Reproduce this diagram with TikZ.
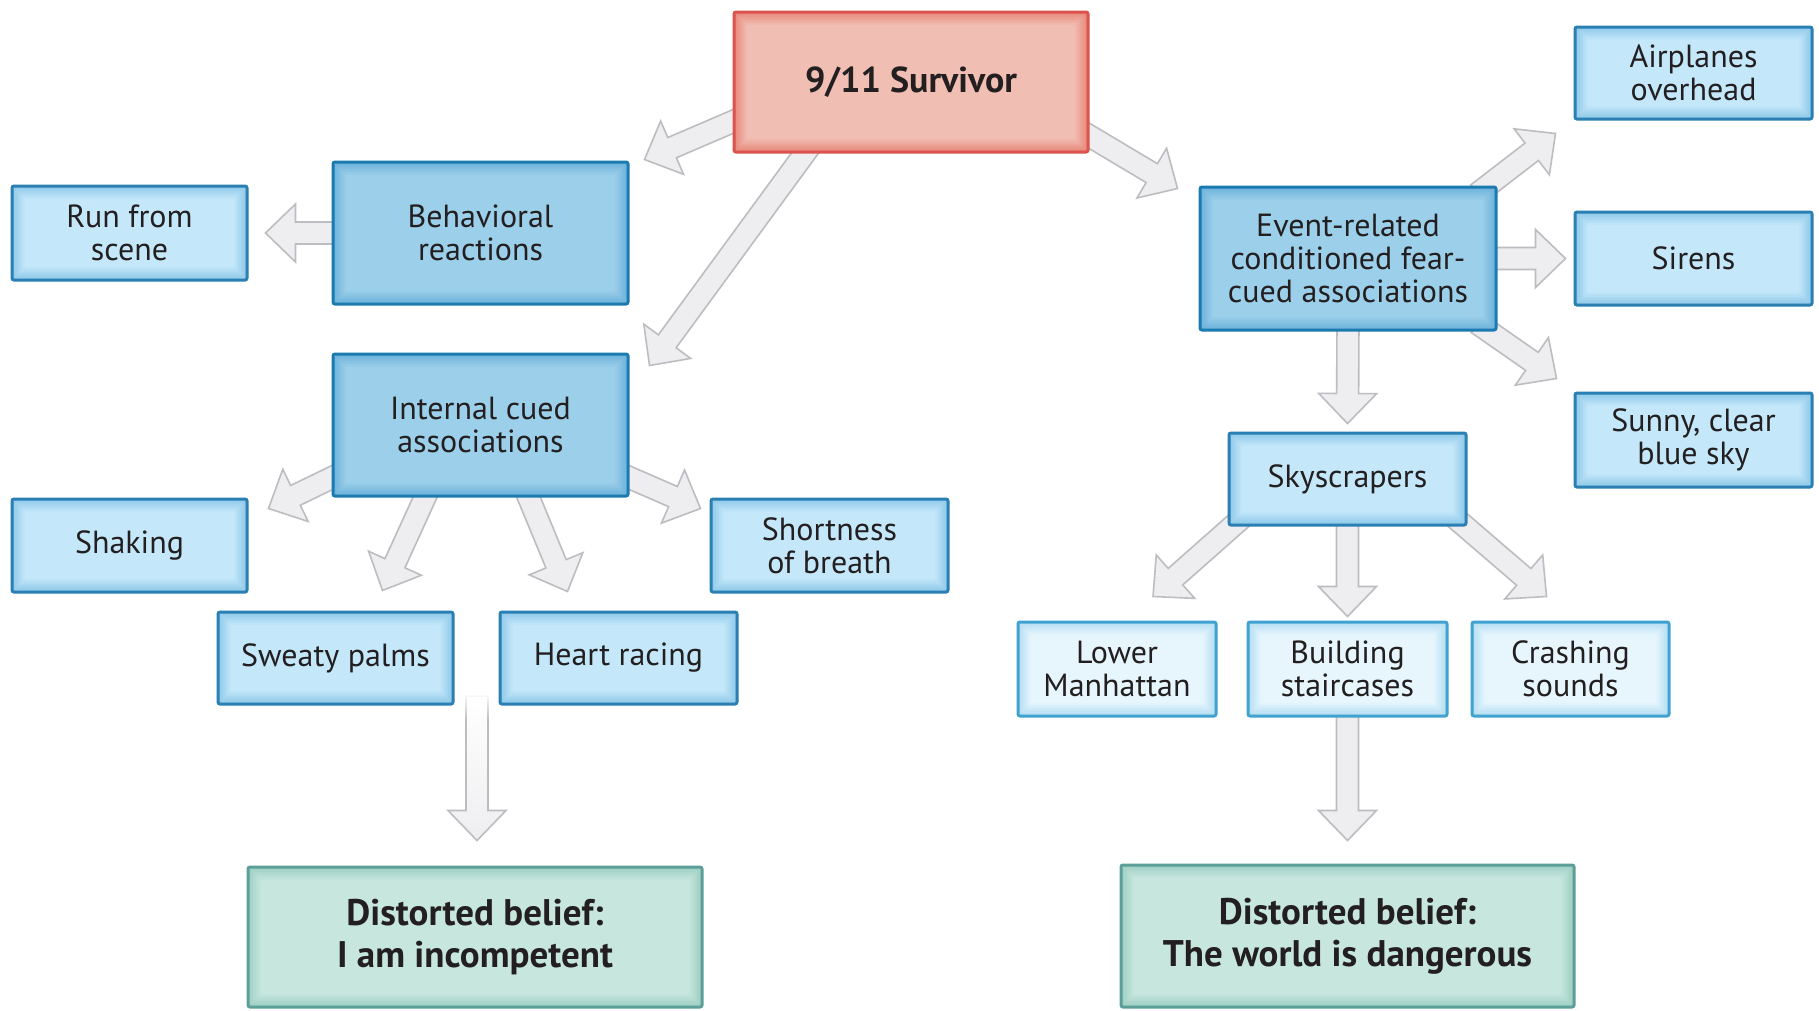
\documentclass[tikz,border=0pt]{standalone}
\usepackage{fontspec}
\setmainfont{PT Sans}
\usetikzlibrary{calc,backgrounds,fadings}
\pgfdeclarelayer{bottom}
\pgfsetlayers{bottom,background,main}
\definecolor{txt}{HTML}{231F20}
\definecolor{svborder}{HTML}{DC524C}
\definecolor{svedge}{HTML}{E8887A}
\definecolor{svcenter}{HTML}{F1BEB3}
\definecolor{dkborder}{HTML}{1B7BB1}
\definecolor{dkedge}{HTML}{6CB2DB}
\definecolor{dkcenter}{HTML}{9CCFEA}
\definecolor{ltborder}{HTML}{2A7FB3}
\definecolor{ltedge}{HTML}{8FC9EA}
\definecolor{ltcenter}{HTML}{C4E8FA}
\definecolor{xlborder}{HTML}{3FA2CF}
\definecolor{xledge}{HTML}{B3DDF2}
\definecolor{xlcenter}{HTML}{E7F6FD}
\definecolor{gnborder}{HTML}{5C9F99}
\definecolor{gnedge}{HTML}{9ECFC3}
\definecolor{gncenter}{HTML}{C7E6DE}
\definecolor{afill}{HTML}{EEEEF0}
\definecolor{aline}{HTML}{BDBDC1}
\tikzset{
  glow/.style n args={2}{path picture={
    \foreach \i in {0,...,8}{
      \pgfmathtruncatemacro\pc{100-\i*12.5}
      \fill[#2!\pc!#1] ([shift={(\i*1.6pt,-\i*1.6pt)}]path picture bounding box.north west)
        rectangle ([shift={(-\i*1.6pt,\i*1.6pt)}]path picture bounding box.south east);
    }}},
  box/.style={rounded corners=2pt, line width=3pt, align=center, inner sep=2pt,
    text=txt, font=\fontsize{32}{33}\selectfont},
  svbox/.style={box, draw=svborder, fill=svcenter, glow={svcenter}{svedge},
    font=\fontsize{36}{40}\selectfont\bfseries},
  dkbox/.style={box, draw=dkborder, fill=dkcenter, glow={dkcenter}{dkedge}},
  ltbox/.style={box, draw=ltborder, fill=ltcenter, glow={ltcenter}{ltedge}},
  xlbox/.style={box, draw=xlborder, fill=xlcenter, glow={xlcenter}{xledge}},
  gnbox/.style={box, draw=gnborder, fill=gncenter, glow={gncenter}{gnedge},
    font=\fontsize{37}{42}\selectfont\bfseries},
  blockarrow/.style={fill=afill, draw=aline, line width=1.6pt, line join=miter},
}
\newcommand\barrow[3][]{%
  \coordinate (ba) at #2;
  \coordinate (bb) at #3;
  \coordinate (bc) at ($(bb)!30pt!(ba)$);
  \path[blockarrow,#1] ($(ba)!11pt!90:(bb)$) -- ($(bc)!11pt!90:(bb)$) -- ($(bc)!29pt!90:(bb)$)
    -- (bb) -- ($(bc)!29pt!-90:(bb)$) -- ($(bc)!11pt!-90:(bb)$) -- ($(ba)!11pt!-90:(bb)$) -- cycle;
}
\begin{document}
\begin{tikzpicture}[x=1pt,y=-1pt]
\begin{pgfonlayer}{bottom}
\fill[white] (0,0) rectangle (1819,1010);
\end{pgfonlayer}
\useasboundingbox (0,0) rectangle (1819,1010);

\node[svbox, minimum width=354pt, minimum height=140pt] (surv) at (911,82) {9/11 Survivor};

\node[dkbox, minimum width=295pt, minimum height=142pt] (beh) at (480.5,233) {Behavioral\\reactions};
\node[ltbox, minimum width=235pt, minimum height=94pt] (run) at (129.5,233) {Run from\\scene};
\node[dkbox, minimum width=295pt, minimum height=142pt] (int) at (480.5,425) {Internal cued\\associations};
\node[ltbox, minimum width=235pt, minimum height=93pt] (shak) at (129.5,545.5) {Shaking};
\node[ltbox, minimum width=235pt, minimum height=92pt] (sweat) at (335.5,658) {Sweaty palms};
\node[ltbox, minimum width=237pt, minimum height=92pt] (heart) at (618.5,658) {Heart racing};
\node[ltbox, minimum width=237pt, minimum height=93pt] (short) at (829.5,545.5) {Shortness\\of breath};
\node[gnbox, minimum width=454pt, minimum height=140pt] (bel1) at (475,937) {Distorted belief:\\I am incompetent};

\node[dkbox, minimum width=296pt, minimum height=143pt] (evt) at (1348,258.5) {Event-related\\conditioned fear-\\cued associations};
\node[ltbox, minimum width=237pt, minimum height=92pt] (air) at (1693.5,73) {Airplanes\\overhead};
\node[ltbox, minimum width=237pt, minimum height=93pt] (sir) at (1693.5,258.5) {Sirens};
\node[ltbox, minimum width=237pt, minimum height=94pt] (sun) at (1693.5,440) {Sunny, clear\\blue sky};
\node[ltbox, minimum width=237pt, minimum height=92pt] (sky) at (1347.5,479) {Skyscrapers};
\node[xlbox, minimum width=198pt, minimum height=94pt] (low) at (1117,669) {Lower\\Manhattan};
\node[xlbox, minimum width=199pt, minimum height=94pt] (bld) at (1347.5,669) {Building\\staircases};
\node[xlbox, minimum width=197pt, minimum height=94pt] (crash) at (1570.5,669) {Crashing\\sounds};
\node[gnbox, minimum width=453pt, minimum height=142pt] (bel2) at (1347.5,936) {Distorted belief:\\The world is dangerous};

\coordinate (symp) at (477,696);

\begin{pgfonlayer}{background}
\barrow{($(surv.west)+(11,35)$)}{($(beh.north east)+(15,-1)$)}
\barrow{($(surv.south)+(-99,-10)$)}{($(int.north east)+(20,13)$)}
\barrow{($(surv.east)+(-10,48)$)}{($(evt.north west)+(-21,3)$)}
\barrow{($(beh.west)+(10,0)$)}{($(run.east)+(17,0)$)}
\barrow{($(int.west)+(12,47)$)}{($(shak.north east)+(20,11)$)}
\barrow{($(int.south)+(-51,-10)$)}{($(sweat.north)+(47,-20)$)}
\barrow{($(int.south)+(44,-10)$)}{($(heart.north)+(-51,-19)$)}
\barrow{($(int.east)+(-13,47)$)}{($(short.north west)+(-9,11)$)}
\barrow[top color=white, bottom color=afill]{(symp)}{($(bel1.north)+(2,-25)$)}
\fill[white, path fading=south] ($(symp)+(-16,-3)$) rectangle ($(symp)+(16,24)$);
\barrow{($(evt.north east)+(-20,8)$)}{($(air.south west)+(-18,13)$)}
\barrow{($(evt.east)+(-10,0)$)}{($(sir.west)+(-8,0)$)}
\barrow{($(evt.south east)+(-20,-8)$)}{($(sun.north west)+(-17,-13)$)}
\barrow{($(evt.south)+(0,-10)$)}{($(sky.north)+(0,-8)$)}
\barrow{($(sky.south west)+(16,-10)$)}{($(low.north)+(36,-24)$)}
\barrow{($(sky.south)+(0,-10)$)}{($(bld.north)+(0,-4)$)}
\barrow{($(sky.south east)+(-14,-10)$)}{($(crash.north)+(-24,-24)$)}
\barrow{($(bld.south)+(0,-10)$)}{($(bel2.north)+(0,-23)$)}
\end{pgfonlayer}
\end{tikzpicture}
\end{document}
